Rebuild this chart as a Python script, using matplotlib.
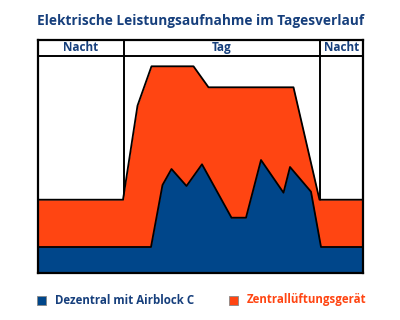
import numpy as np
import matplotlib.pyplot as plt

# values (x = time units, y = power, arbitrary units)
blau_x = [0, 113.5, 125, 134, 149, 164.5, 194, 208.5, 223.5, 246, 252.5, 273.5, 283.5, 325.5]
blau_y = [26, 26, 88, 104, 87, 108.7, 55.3, 55.3, 113, 80.3, 106, 81.3, 26, 26]
orange_x = [0, 85.5, 100, 114, 156, 171, 256, 282, 325.5]
orange_y = [73.3, 73.3, 167.3, 206.7, 206.7, 185.7, 185.7, 73.3, 73.3]
phasen = ["Nacht", "Tag", "Nacht"]
grenzen = [0, 86, 282.5, 325.5]
serien = ["Dezentral mit Airblock C", "Zentrallüftungsgerät"]

blau = "#00468a"
orange = "#ff4512"
dunkelblau = "#163f7c"
plt.rcParams['font.family'] = ['Open Sans', 'DejaVu Sans']

fig = plt.figure(figsize=(4, 3.2), dpi=100)
ax = fig.add_axes([37.5/400, 47/320, 325.5/400, 233.3/320])
ymax = 217.3
ax.set_xlim(0, 325.5)
ax.set_ylim(0, 233.3)

ax.fill_between(orange_x, orange_y, color=orange, lw=0, zorder=2)
ax.plot(orange_x, orange_y, color="black", lw=1.3, zorder=3)
ax.fill_between(blau_x, blau_y, color=blau, lw=0, zorder=4)
ax.plot(blau_x, blau_y, color="black", lw=1.3, zorder=5)

for g in grenzen[1:-1]:
    ax.axvline(g, color="black", lw=1.4, zorder=1)
ax.axhline(ymax, color="black", lw=1.4, zorder=6)
for i, p in enumerate(phasen):
    ax.text((grenzen[i] + grenzen[i+1]) / 2, ymax + 8, p, ha="center", va="center",
            fontsize=8.5, fontweight="bold", color=dunkelblau)

ax.set_xticks([])
ax.set_yticks([])
for s in ax.spines.values():
    s.set_linewidth(1.6)
    s.set_zorder(7)

fig.text(37/400, 1 - 21/320, "Elektrische Leistungsaufnahme im Tagesverlauf",
         fontsize=9.8, fontweight="bold", color=dunkelblau, va="center")

# legend
fig.patches.append(plt.Rectangle((37/400, 1 - 305/320), 9/400, 9/320, transform=fig.transFigure,
                                 facecolor=blau, edgecolor="#888888", lw=0.6))
fig.text(55/400, 1 - 300/320, serien[0], fontsize=8.3, fontweight="bold", color=dunkelblau, va="center")
fig.patches.append(plt.Rectangle((229/400, 1 - 305/320), 9/400, 9/320, transform=fig.transFigure,
                                 facecolor=orange, edgecolor="#888888", lw=0.6))
fig.text(247/400, 1 - 300/320, serien[1], fontsize=8.3, fontweight="bold", color=orange, va="center")

fig.savefig("out.png", dpi=100)
